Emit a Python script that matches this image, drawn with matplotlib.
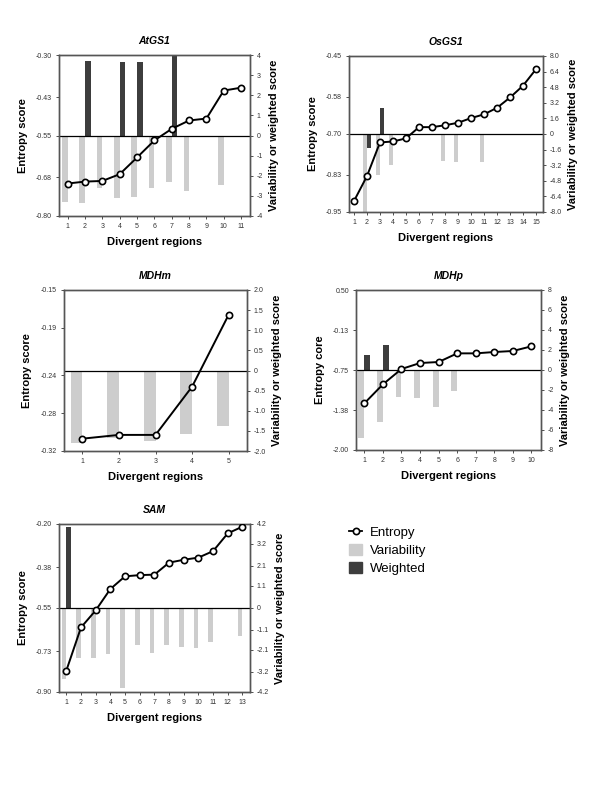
import matplotlib
matplotlib.use("Agg")
import matplotlib.pyplot as plt
from matplotlib.lines import Line2D
from matplotlib.patches import Patch

plt.rcParams['font.family'] = ['Liberation Sans', 'DejaVu Sans']

# ---- data ----
atgs1_entropy = [-0.699, -0.693, -0.691, -0.670, -0.618, -0.565, -0.529, -0.503, -0.497, -0.410, -0.401]
atgs1_var = [-3.29, -3.36, -2.63, -3.10, -3.06, -2.63, -2.30, -2.78, 0, -2.48, 0]
atgs1_wgt = [0, 3.73, 0, 3.66, 3.64, 0, 3.97, 0, 0, 0, 0]
atgs1_left_ticks = ['-0.80', '-0.68', '-0.55', '-0.43', '-0.30']
atgs1_right_ticks = ['-4', '-3', '-2', '-1', '0', '1', '2', '3', '4']

osgs1_entropy = [-0.915, -0.835, -0.727, -0.724, -0.714, -0.678, -0.678, -0.672, -0.664,
                 -0.649, -0.637, -0.616, -0.583, -0.545, -0.492]
osgs1_var = [0, -8.0, -4.25, -3.2, 0, 0, 0, -2.74, -2.9, 0, -2.9, 0, 0, 0, 0]
osgs1_wgt = [0, -1.47, 2.7, 0, 0, 0, 0, 0, 0, 0, 0, 0, 0, 0, 0]
osgs1_left_ticks = ['-0.95', '-0.83', '-0.70', '-0.58', '-0.45']
osgs1_right_ticks = ['-8.0', '-6.4', '-4.8', '-3.2', '-1.6', '0', '1.6', '3.2', '4.8', '6.4', '8.0']

mdhm_entropy = [-0.307, -0.303, -0.303, -0.252, -0.176]
mdhm_var = [-1.81, -1.67, -1.76, -1.57, -1.39]
mdhm_wgt = [0, 0, 0, 0, 0]
mdhm_left_ticks = ['-0.32', '-0.28', '-0.24', '-0.19', '-0.15']
mdhm_right_ticks = ['-2.0', '-1.5', '-1.0', '-0.5', '0', '0.5', '1.0', '1.5', '2.0']

mdhp_entropy = [-1.271, -0.974, -0.734, -0.641, -0.625, -0.490, -0.490, -0.469, -0.453, -0.380]
mdhp_var = [-6.83, -5.17, -2.70, -2.80, -3.73, -2.07, 0, 0, 0, 0]
mdhp_wgt = [1.47, 2.5, 0, 0, 0, 0, 0, 0, 0, 0]
mdhp_left_ticks = ['-2.00', '-1.38', '-0.75', '-0.13', '0.50']
mdhp_right_ticks = ['-8', '-6', '-4', '-2', '0', '2', '4', '6', '8']

sam_entropy = [-0.811, -0.631, -0.560, -0.471, -0.418, -0.413, -0.411, -0.361, -0.349,
               -0.340, -0.313, -0.239, -0.211]
sam_var = [-3.55, -2.52, -2.50, -2.28, -4.0, -1.83, -2.25, -1.87, -1.93, -2.0, -1.7, 0, -1.42]
sam_wgt = [4.05, 0, 0, 0, 0, 0, 0, 0, 0, 0, 0, 0, 0]
sam_left_ticks = ['-0.90', '-0.73', '-0.55', '-0.38', '-0.20']
sam_right_ticks = ['-4.2', '-3.2', '-2.1', '-1.1', '0', '1.1', '2.1', '3.2', '4.2']

LIGHT = '#cdcdcd'
DARK = '#3d3d3d'
FRAME = '#555555'

fig = plt.figure(figsize=(6, 8), dpi=100)


def panel(rect, title, entropy, var, wgt, lticks, rticks, ylabel, xlim):
    ax = fig.add_axes(rect)
    ax2 = ax.twinx()
    n = len(entropy)
    x = list(range(1, n + 1))
    w = 0.32
    lt = [float(t) for t in lticks]
    rt = [float(t) for t in rticks]

    ax2.bar([i - w / 2 for i in x], var, width=w, color=LIGHT, zorder=1)
    ax2.bar([i + w / 2 for i in x], wgt, width=w, color=DARK, zorder=1)
    ax2.axhline(0, color='black', lw=0.9, zorder=2)
    ax2.set_ylim(rt[0], rt[-1])
    ax2.set_yticks(rt)
    ax2.set_yticklabels(rticks)

    ax.plot(x, entropy, color='black', lw=1.4, marker='o', ms=4.5,
            mfc='white', mec='black', mew=1.2, zorder=5)
    ax.set_ylim(lt[0], lt[-1])
    ax.set_yticks(lt)
    ax.set_yticklabels(lticks)
    ax.set_xlim(*xlim)
    ax.set_xticks(x)
    ax.set_zorder(ax2.get_zorder() + 1)
    ax.patch.set_visible(False)

    for a in (ax, ax2):
        a.tick_params(labelsize=5, length=2, width=0.6, colors='#333333', pad=3)
        for s in a.spines.values():
            s.set_color(FRAME)
            s.set_linewidth(1.0)

    ax.set_title(title, fontsize=7.5, fontweight='bold', style='italic', pad=8)
    ax.set_ylabel(ylabel, fontsize=8, fontweight='bold', labelpad=6)
    ax2.set_ylabel('Variability or weighted score', fontsize=8, fontweight='bold', labelpad=4)
    ax.set_xlabel('Divergent regions', fontsize=8, fontweight='bold', labelpad=5)
    return ax


panel([0.0983, 0.73, 0.318, 0.201], 'AtGS1', atgs1_entropy, atgs1_var, atgs1_wgt,
      atgs1_left_ticks, atgs1_right_ticks, 'Entropy score', (0.5, 11.5))
panel([0.5817, 0.735, 0.323, 0.195], 'OsGS1', osgs1_entropy, osgs1_var, osgs1_wgt,
      osgs1_left_ticks, osgs1_right_ticks, 'Entropy score', (0.62, 15.52))
panel([0.1067, 0.43625, 0.305, 0.20125], 'MDHm', mdhm_entropy, mdhm_var, mdhm_wgt,
      mdhm_left_ticks, mdhm_right_ticks, 'Entropy score', (0.5, 5.5))
panel([0.5933, 0.4375, 0.308, 0.2], 'MDHp', mdhp_entropy, mdhp_var, mdhp_wgt,
      mdhp_left_ticks, mdhp_right_ticks, 'Entropy core', (0.55, 10.5))
panel([0.0983, 0.135, 0.318, 0.21], 'SAM', sam_entropy, sam_var, sam_wgt,
      sam_left_ticks, sam_right_ticks, 'Entropy score', (0.5, 13.5))

handles = [
    Line2D([0], [0], color='black', lw=1.3, marker='o', ms=4.5, mfc='white', mec='black', mew=1.2),
    Patch(color=LIGHT),
    Patch(color=DARK),
]
fig.legend(handles, ['Entropy', 'Variability', 'Weighted'], loc='upper left',
           bbox_to_anchor=(0.562, 0.358), frameon=False, fontsize=9.5,
           handlelength=1.0, handleheight=1.0, handletextpad=0.6, labelspacing=0.35)

fig.savefig('out.png', dpi=100)
